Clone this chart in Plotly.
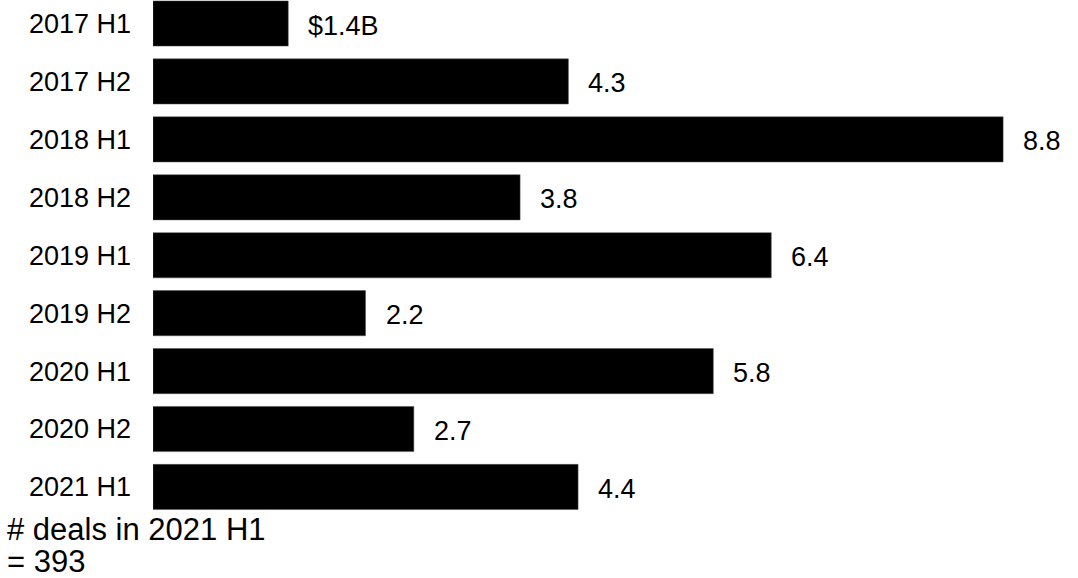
import plotly.graph_objects as go

periods = ["2017 H1", "2017 H2", "2018 H1", "2018 H2", "2019 H1",
           "2019 H2", "2020 H1", "2020 H2", "2021 H1"]
funding_b = [1.4, 4.3, 8.8, 3.8, 6.4, 2.2, 5.8, 2.7, 4.4]
value_labels = ["$1.4B", "4.3", "8.8", "3.8", "6.4", "2.2", "5.8", "2.7", "4.4"]
footnote_lines = ["# deals in 2021 H1", "= 393"]

FONT = "Liberation Sans, Arial, sans-serif"

fig = go.Figure(
    go.Bar(
        x=funding_b,
        y=periods,
        orientation="h",
        marker=dict(color="#000000", line=dict(color="#555555", width=0.5)),
        hoverinfo="skip",
    )
)

for v, p, lab in zip(funding_b, periods, value_labels):
    fig.add_annotation(
        x=v, y=p, text=lab, showarrow=False,
        xanchor="left", yanchor="middle", xshift=18, yshift=-2,
        font=dict(family=FONT, size=27, color="#000000"),
    )

# footnote below the plot, one annotation per line
for line, ypix in zip(footnote_lines, [529, 561]):
    fig.add_annotation(
        xref="paper", yref="paper", x=-147 / 925, y=(515 - ypix) / 515,
        text=line, showarrow=False, xanchor="left", yanchor="middle",
        align="left", borderpad=0,
        font=dict(family=FONT, size=31, color="#000000"),
    )

fig.update_layout(
    width=1078, height=578,
    margin=dict(l=153, r=0, t=0, b=63),
    paper_bgcolor="white", plot_bgcolor="white",
    bargap=0.22, showlegend=False,
    xaxis=dict(range=[0, 9.575], visible=False),
    yaxis=dict(
        range=[8.484, -0.406], showgrid=False, zeroline=False, showline=False,
        ticks="", ticklabelstandoff=21,
        tickfont=dict(family=FONT, size=27, color="#000000"),
    ),
)

fig.write_html("out.html")
